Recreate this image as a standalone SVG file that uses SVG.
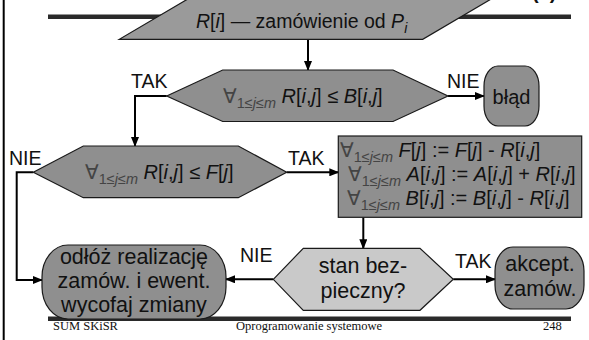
<svg xmlns="http://www.w3.org/2000/svg" width="589" height="340" viewBox="0 0 589 340">
<defs>
<style>
.shape{stroke:#1a1a1a;stroke-width:1.2}
.dark{fill:#8f8f8f}
.para{fill:#9a9a9a}
.light{fill:#c9c9c9}
.t{font-family:"Liberation Sans",Arial,"DejaVu Sans",sans-serif;font-size:19.5px;fill:#111}
.f{font-size:20px}
.big{font-size:21.5px}
.it{font-style:italic}
.sym{fill:#444}
.sb{font-size:14.5px}
.foot{font-family:"Liberation Serif","Times New Roman",serif;font-size:12.5px;fill:#111}
.conn{stroke:#000;stroke-width:2;fill:none}
.bar{fill:#2a2a2a}
</style>
<marker id="ah" markerWidth="10" markerHeight="8" refX="9" refY="4" orient="auto" markerUnits="userSpaceOnUse">
<path d="M0,0 L10,4 L0,8 z" fill="#000"/>
</marker>
</defs>
<rect width="589" height="340" fill="#fff"/>
<g id="frame">
<line x1="3.7" y1="0" x2="3.7" y2="340" stroke="#000" stroke-width="2"/>
<rect class="bar" x="48" y="14.5" width="523" height="4.5"/>
<rect class="bar" x="48" y="316.5" width="523" height="4.5"/>
<text x="532" y="-1" font-family="Liberation Sans,Arial,sans-serif" font-size="20" font-weight="bold" fill="#111">(c)</text>
</g>
<g id="connectors">
<path class="conn" d="M308,39.3 V70" marker-end="url(#ah)"/>
<path class="conn" d="M166.7,96 H135 V146" marker-end="url(#ah)"/>
<path class="conn" d="M448,96 H484" marker-end="url(#ah)"/>
<path class="conn" d="M286.7,172.3 H338.3" marker-end="url(#ah)"/>
<path class="conn" d="M33.3,172.3 H16.7 V280 H42" marker-end="url(#ah)"/>
<path class="conn" d="M363.3,217.3 V248.3" marker-end="url(#ah)"/>
<path class="conn" d="M273.3,279.3 H226" marker-end="url(#ah)"/>
<path class="conn" d="M453.3,279.3 H495" marker-end="url(#ah)"/>
<text class="t" x="131" y="88">TAK</text>
<text class="t" x="447" y="88">NIE</text>
<text class="t" x="288" y="165">TAK</text>
<text class="t" x="9" y="165">NIE</text>
<text class="t" x="240" y="262">NIE</text>
<text class="t" x="455" y="268">TAK</text>
</g>
<g id="request">
<polygon class="shape para" points="119.3,39.3 422.7,39.3 498,-5 194.6,-5"/>
<text class="t" x="196" y="28" font-size="20.5"><tspan class="it">R</tspan>[<tspan class="it">i</tspan>] — zamówienie od <tspan class="it">P</tspan><tspan class="it" font-size="14" dy="5">i</tspan></text>
</g>
<g id="check-need">
<polygon class="shape dark" points="166.7,96 222.7,70 393,70 448,96 393,121.5 222.7,121.5"/>
<text class="t f" x="223" y="103"><tspan class="sym">∀</tspan><tspan class="sym sb" dy="5">1≤<tspan class="it">j</tspan>≤<tspan class="it">m</tspan></tspan><tspan dy="-5"> </tspan><tspan class="it">R</tspan>[<tspan class="it">i</tspan>,<tspan class="it">j</tspan>] ≤ <tspan class="it">B</tspan>[<tspan class="it">i</tspan>,<tspan class="it">j</tspan>]</text>
</g>
<g id="error">
<rect class="shape dark" x="484" y="66" width="55" height="60" rx="14" ry="20"/>
<text class="t f" x="511.5" y="104" text-anchor="middle">błąd</text>
</g>
<g id="check-free">
<polygon class="shape dark" points="33.3,172.3 83.3,146 238.3,146 286.7,172.3 238.3,197.7 83.3,197.7"/>
<text class="t f" x="85" y="179"><tspan class="sym">∀</tspan><tspan class="sym sb" dy="5">1≤<tspan class="it">j</tspan>≤<tspan class="it">m</tspan></tspan><tspan dy="-5"> </tspan><tspan class="it">R</tspan>[<tspan class="it">i</tspan>,<tspan class="it">j</tspan>] ≤ <tspan class="it">F</tspan>[<tspan class="it">j</tspan>]</text>
</g>
<g id="allocate">
<rect class="shape dark" x="338.3" y="136" width="243.4" height="81.3"/>
<text class="t f" x="340" y="157"><tspan class="sym">∀</tspan><tspan class="sym sb" dy="5">1≤<tspan class="it">j</tspan>≤<tspan class="it">m</tspan></tspan><tspan dy="-5"> </tspan><tspan class="it">F</tspan>[<tspan class="it">j</tspan>] := <tspan class="it">F</tspan>[<tspan class="it">j</tspan>] - <tspan class="it">R</tspan>[<tspan class="it">i</tspan>,<tspan class="it">j</tspan>]</text>
<text class="t f" x="348" y="181"><tspan class="sym">∀</tspan><tspan class="sym sb" dy="5">1≤<tspan class="it">j</tspan>≤<tspan class="it">m</tspan></tspan><tspan dy="-5"> </tspan><tspan class="it">A</tspan>[<tspan class="it">i</tspan>,<tspan class="it">j</tspan>] := <tspan class="it">A</tspan>[<tspan class="it">i</tspan>,<tspan class="it">j</tspan>] + <tspan class="it">R</tspan>[<tspan class="it">i</tspan>,<tspan class="it">j</tspan>]</text>
<text class="t f" x="347" y="205"><tspan class="sym">∀</tspan><tspan class="sym sb" dy="5">1≤<tspan class="it">j</tspan>≤<tspan class="it">m</tspan></tspan><tspan dy="-5"> </tspan><tspan class="it">B</tspan>[<tspan class="it">i</tspan>,<tspan class="it">j</tspan>] := <tspan class="it">B</tspan>[<tspan class="it">i</tspan>,<tspan class="it">j</tspan>] - <tspan class="it">R</tspan>[<tspan class="it">i</tspan>,<tspan class="it">j</tspan>]</text>
</g>
<g id="postpone">
<rect class="shape dark" x="42" y="245" width="184" height="74" rx="26" ry="32"/>
<text class="t big" text-anchor="middle"><tspan x="134" y="264">odłóż realizację</tspan><tspan x="134" y="288">zamów. i ewent.</tspan><tspan x="134" y="312">wycofaj zmiany</tspan></text>
</g>
<g id="safe">
<polygon class="shape light" points="273.3,279.3 303.3,248.3 420,248.3 453.3,279.3 420,310.3 303.3,310.3"/>
<text class="t big" text-anchor="middle"><tspan x="363" y="273">stan bez-</tspan><tspan x="363" y="298">pieczny?</tspan></text>
</g>
<g id="accept">
<rect class="shape dark" x="495" y="247" width="89" height="62" rx="18" ry="24"/>
<text class="t big" text-anchor="middle"><tspan x="540" y="271">akcept.</tspan><tspan x="540" y="296">zamów.</tspan></text>
</g>
<g id="footer">
<text class="foot" x="53" y="330">SUM SKiSR</text>
<text class="foot" x="236" y="330">Oprogramowanie systemowe</text>
<text class="foot" x="543" y="330">248</text>
</g>
</svg>
